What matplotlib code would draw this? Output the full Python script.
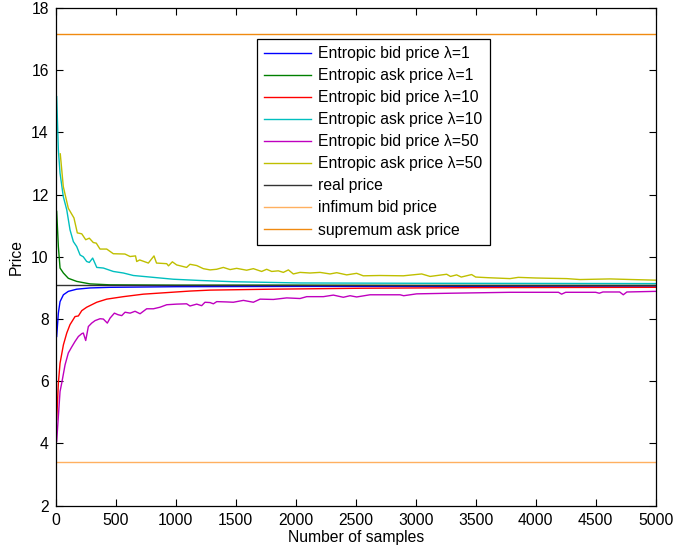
import matplotlib
matplotlib.use('Agg')
import matplotlib.pyplot as plt

plt.rcParams['font.family'] = ['Liberation Sans', 'DejaVu Sans']
plt.rcParams['font.size'] = 11.3

# entropic bid/ask prices against number of samples
bid1_x = [8, 22, 36, 64, 105, 175, 286, 453, 1000, 2000, 3000, 5000]
bid1_y = [7.44, 8.19, 8.56, 8.78, 8.89, 8.96, 9.00, 9.02, 9.04, 9.05, 9.05, 9.06]

ask1_x = [8, 22, 36, 64, 105, 175, 286, 453, 1000, 2000, 3000, 5000]
ask1_y = [11.46, 10.33, 9.64, 9.48, 9.31, 9.21, 9.13, 9.10, 9.09, 9.09, 9.08, 9.08]

bid10_x = [8, 22, 36, 64, 92, 119, 161, 189, 217, 258, 300, 342, 425, 564,
           730, 925, 1119, 1286, 1800, 2536, 3500, 5000]
bid10_y = [4.76, 5.94, 6.58, 7.17, 7.55, 7.82, 8.08, 8.10, 8.27, 8.38, 8.46,
           8.54, 8.64, 8.72, 8.80, 8.85, 8.90, 8.93, 8.96, 8.99, 9.01, 9.02]

ask10_x = [8, 22, 36, 63, 92, 119, 147, 175, 203, 230, 258, 280, 308, 342,
           397, 480, 564, 647, 814, 980, 1203, 1480, 1758, 2036, 3000, 5000]
ask10_y = [15.15, 13.44, 12.69, 11.94, 11.51, 10.87, 10.49, 10.33, 10.06,
           10.00, 9.85, 9.82, 9.96, 9.66, 9.64, 9.53, 9.48, 9.40, 9.34, 9.28,
           9.24, 9.20, 9.18, 9.16, 9.15, 9.14]

bid50_x = [8, 22, 36, 50, 78, 105, 133, 161, 189, 217, 230, 250, 272, 300,
           328, 369, 397, 430, 453, 489, 519, 550, 578, 620, 661, 703, 758,
           814, 869, 925, 1008, 1091, 1119, 1175, 1216, 1244, 1286, 1314,
           1342, 1425, 1480, 1564, 1647, 1703, 1814, 1925, 2036, 2092, 2231,
           2314, 2397, 2453, 2508, 2619, 2870, 2900, 3008, 3286, 3619, 3786,
           3980, 4190, 4216, 4250, 4500, 4530, 4560, 4700, 4730, 4760, 5000]
bid50_y = [4.07, 4.87, 5.67, 5.94, 6.53, 6.91, 7.10, 7.28, 7.44, 7.53, 7.55,
           7.31, 7.76, 7.87, 7.95, 8.01, 8.00, 7.87, 8.03, 8.19, 8.14, 8.11,
           8.22, 8.19, 8.25, 8.17, 8.33, 8.33, 8.38, 8.46, 8.48, 8.49, 8.42,
           8.48, 8.43, 8.54, 8.53, 8.49, 8.56, 8.55, 8.54, 8.60, 8.54, 8.64,
           8.63, 8.68, 8.66, 8.72, 8.72, 8.77, 8.70, 8.75, 8.71, 8.78, 8.78,
           8.75, 8.81, 8.83, 8.85, 8.86, 8.86, 8.86, 8.80, 8.86, 8.86, 8.83,
           8.87, 8.87, 8.78, 8.87, 8.89]

ask50_x = [38, 63, 105, 152, 180, 217, 250, 280, 313, 338, 369, 425, 480,
           577, 620, 665, 675, 700, 772, 819, 840, 925, 940, 972, 1008, 1091,
           1119, 1175, 1230, 1286, 1341, 1397, 1453, 1508, 1591, 1647, 1716,
           1758, 1800, 1855, 1897, 1939, 1980, 2036, 2119, 2203, 2286, 2342,
           2425, 2508, 2563, 2700, 2897, 3050, 3120, 3258, 3290, 3341, 3380,
           3466, 3500, 3600, 3786, 3855, 4000, 4119, 4258, 4369, 4619, 4800,
           5000]
ask50_y = [13.31, 12.26, 11.56, 11.25, 10.77, 10.74, 10.55, 10.60, 10.46,
           10.44, 10.25, 10.25, 10.10, 10.09, 10.01, 10.03, 9.85, 9.90, 9.80,
           10.03, 9.80, 9.78, 9.71, 9.84, 9.74, 9.66, 9.76, 9.72, 9.62, 9.58,
           9.60, 9.66, 9.59, 9.63, 9.57, 9.62, 9.53, 9.60, 9.53, 9.55, 9.50,
           9.58, 9.45, 9.50, 9.48, 9.50, 9.45, 9.49, 9.42, 9.47, 9.39, 9.40,
           9.39, 9.45, 9.37, 9.44, 9.37, 9.42, 9.35, 9.43, 9.35, 9.33, 9.30,
           9.34, 9.32, 9.31, 9.30, 9.27, 9.29, 9.27, 9.25]

real_price = 9.08
infimum_bid = 3.40
supremum_ask = 17.15

series = [
    (bid1_x, bid1_y, '#0000ff', 'Entropic bid price λ=1'),
    (ask1_x, ask1_y, '#008000', 'Entropic ask price λ=1'),
    (bid10_x, bid10_y, '#ff0000', 'Entropic bid price λ=10'),
    (ask10_x, ask10_y, '#00bfbf', 'Entropic ask price λ=10'),
    (bid50_x, bid50_y, '#bf00bf', 'Entropic bid price λ=50'),
    (ask50_x, ask50_y, '#bfbf00', 'Entropic ask price λ=50'),
]

fig = plt.figure(figsize=(6.77, 5.54), dpi=100)
ax = fig.add_axes([0.0823, 0.0872, 0.8862, 0.8984])

lw = 1.0
for xs, ys, col, lab in series:
    ax.plot(xs, ys, color=col, lw=lw, label=lab)
ax.axhline(real_price, color='#333333', lw=lw, label='real price')
ax.axhline(infimum_bid, color='#ffb060', lw=lw, label='infimum bid price')
ax.axhline(supremum_ask, color='#f08a10', lw=lw, label='supremum ask price')

ax.set_xlim(0, 5000)
ax.set_ylim(2, 18)
ax.set_xticks(range(0, 5001, 500))
ax.set_yticks(range(2, 19, 2))
ax.tick_params(direction='in', top=True, right=True, length=5, width=0.8,
               labelsize=11.3, pad=5)
for s in ax.spines.values():
    s.set_linewidth(0.9)
ax.set_xlabel('Number of samples', labelpad=2)
ax.set_ylabel('Price', labelpad=5)

leg = ax.legend(loc='upper left', bbox_to_anchor=(0.3355, 0.9377),
                borderaxespad=0, handlelength=3.0,
                handletextpad=0.45, labelspacing=0.45, borderpad=0.45,
                fancybox=False, framealpha=1, edgecolor='black')
leg.get_frame().set_linewidth(0.9)

fig.savefig('out.png', dpi=100)
